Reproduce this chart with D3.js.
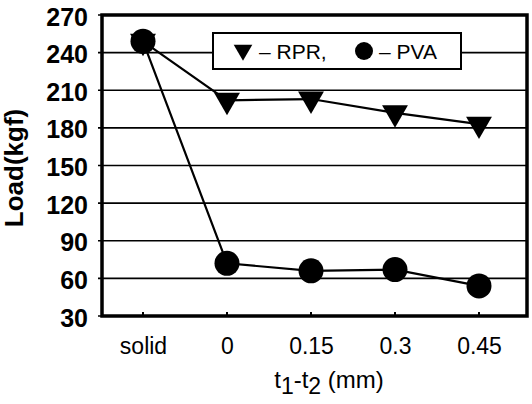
<!DOCTYPE html>
<meta charset="utf-8">
<style>
  body { margin: 0; background: #fff; }
  text { font-family: "Liberation Sans", Arial, sans-serif; fill: #000; }
</style>
<body>
<script src="https://d3js.org/d3.v7.min.js"></script>
<script>
  var categories = ["solid", "0", "0.15", "0.3", "0.45"];
  var rprValues = [249, 202, 203, 192, 183];
  var pvaValues = [249, 72, 66, 67, 54];
  var yTicks = [30, 60, 90, 120, 150, 180, 210, 240, 270];

  var width = 532, height = 404;
  // plot box (named to avoid clashing with window.top)
  var plotL = 102, plotR = 527, plotT = 15, plotB = 316;

  var svg = d3.select("body").append("svg")
      .attr("width", width)
      .attr("height", height);

  var x = d3.scalePoint()
      .domain(categories)
      .range([143, 479]);

  var y = d3.scaleLinear()
      .domain([30, 270])
      .range([plotB, plotT]);

  // gridlines
  svg.append("g")
    .selectAll("line")
    .data(yTicks)
    .enter().append("line")
      .attr("x1", plotL - 4).attr("x2", plotR)
      .attr("y1", function(d) { return y(d); })
      .attr("y2", function(d) { return y(d); })
      .attr("stroke", "#000")
      .attr("stroke-width", 1.6);

  // y axis labels
  var yAxis = d3.axisLeft(y).tickValues(yTicks).tickSize(0).tickPadding(14);
  var ya = svg.append("g")
      .attr("transform", "translate(" + plotL + ",0)")
      .call(yAxis);
  ya.select(".domain").remove();
  ya.selectAll("text")
      .attr("font-size", 25)
      .attr("font-weight", "bold")
      .attr("font-family", "Liberation Sans, Arial, sans-serif")
      .attr("dy", "0.4em");

  // x axis labels
  var xAxis = d3.axisBottom(x).tickSize(0).tickPadding(22);
  var xa = svg.append("g")
      .attr("transform", "translate(0," + plotB + ")")
      .call(xAxis);
  xa.select(".domain").remove();
  xa.selectAll("text")
      .attr("font-size", 23)
      .attr("font-family", "Liberation Sans, Arial, sans-serif");

  // small bottom ticks
  svg.append("g")
    .selectAll("line")
    .data(categories)
    .enter().append("line")
      .attr("x1", function(d) { return x(d); })
      .attr("x2", function(d) { return x(d); })
      .attr("y1", plotB).attr("y2", plotB - 4)
      .attr("stroke", "#000")
      .attr("stroke-width", 2);

  // frame
  svg.append("rect")
      .attr("x", plotL).attr("y", plotT)
      .attr("width", plotR - plotL).attr("height", plotB - plotT)
      .attr("fill", "none")
      .attr("stroke", "#000")
      .attr("stroke-width", 3.5);

  var line = d3.line()
      .x(function(d, i) { return x(categories[i]); })
      .y(function(d) { return y(d); });

  svg.append("path")
      .datum(rprValues)
      .attr("d", line)
      .attr("fill", "none")
      .attr("stroke", "#000")
      .attr("stroke-width", 2.2);

  svg.append("path")
      .datum(pvaValues)
      .attr("d", line)
      .attr("fill", "none")
      .attr("stroke", "#000")
      .attr("stroke-width", 2.2);

  var tri = d3.symbol().type(d3.symbolTriangle).size(290);

  svg.append("g")
    .selectAll("path")
    .data(rprValues)
    .enter().append("path")
      .attr("d", tri)
      .attr("transform", function(d, i) {
        return "translate(" + x(categories[i]) + "," + y(d) + ") rotate(180)";
      })
      .attr("fill", "#000");

  svg.append("g")
    .selectAll("circle")
    .data(pvaValues)
    .enter().append("circle")
      .attr("cx", function(d, i) { return x(categories[i]); })
      .attr("cy", function(d) { return y(d); })
      .attr("r", 12.5)
      .attr("fill", "#000");

  // legend
  var lg = svg.append("g").attr("transform", "translate(213,33)");
  lg.append("rect")
      .attr("width", 248).attr("height", 36)
      .attr("fill", "#fff")
      .attr("stroke", "#000")
      .attr("stroke-width", 2);
  lg.append("path")
      .attr("d", d3.symbol().type(d3.symbolTriangle).size(150))
      .attr("transform", "translate(30,17) rotate(180)")
      .attr("fill", "#000");
  lg.append("text")
      .attr("x", 46).attr("y", 26)
      .attr("font-size", 21)
      .text("\u2013 RPR,");
  lg.append("circle")
      .attr("cx", 151).attr("cy", 18).attr("r", 9)
      .attr("fill", "#000");
  lg.append("text")
      .attr("x", 166).attr("y", 26)
      .attr("font-size", 21)
      .text("\u2013 PVA");

  // axis titles
  svg.append("text")
      .attr("transform", "translate(23,168) rotate(-90)")
      .attr("text-anchor", "middle")
      .attr("font-size", 26)
      .attr("font-weight", "bold")
      .text("Load(kgf)");

  var xt = svg.append("text")
      .attr("x", 329).attr("y", 388)
      .attr("text-anchor", "middle")
      .attr("font-size", 24);
  xt.append("tspan").text("t");
  xt.append("tspan").attr("dy", 6).attr("font-size", 23).text("1");
  xt.append("tspan").attr("dy", -6).text("-t");
  xt.append("tspan").attr("dy", 6).attr("font-size", 23).text("2");
  xt.append("tspan").attr("dy", -6).text(" (mm)");
</script>
</body>
